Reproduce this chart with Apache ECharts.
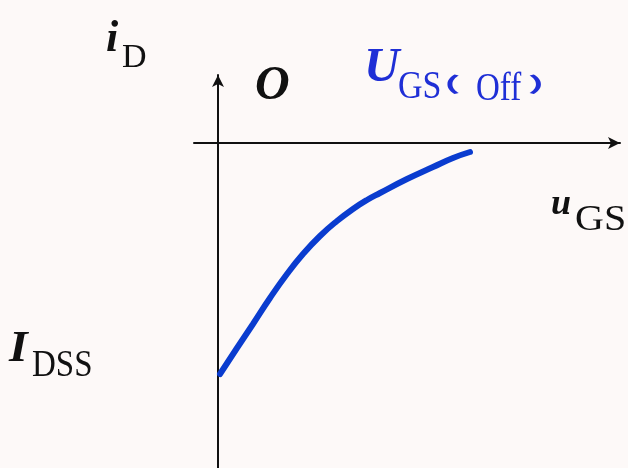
<!DOCTYPE html>
<html>
<head>
<meta charset="utf-8">
<title>iD – uGS transfer characteristic</title>
<script src="https://cdn.jsdelivr.net/npm/echarts@6/dist/echarts.min.js"></script>
<style>
  html, body { margin: 0; padding: 0; background: #fdf9f8; }
  #chart { width: 628px; height: 468px; }
</style>
</head>
<body>
<div id="chart"></div>
<script>
// Transfer characteristic: gate-source voltage (arbitrary units) vs drain current
var uGS = [2, 19, 35, 52, 69, 85, 102, 119, 135, 149, 162, 189, 215, 235, 252];
var iD  = [-231, -205, -181, -155, -131, -111, -93, -78, -66, -57, -50, -36, -24, -15, -9];

// Axis extents (same arbitrary units)
var xRange = [-24, 402];
var yRange = [-325, 68];

var SERIF = '"Liberation Serif", "Times New Roman", serif';
var CJK = '"Noto Sans CJK SC", sans-serif';
var INK = '#111111';
var BLUE = '#1f2fd6';

// text label helper: left edge, alphabetic baseline, font, scale
function label(text, left, baseline, size, style, weight, color, sx, sy, family) {
  sx = sx || 1; sy = sy || 1;
  return {
    type: 'text',
    x: left,
    y: baseline + 2 + 0.16 * size * sy,
    scaleX: sx,
    scaleY: sy,
    z: 10,
    style: {
      text: text,
      fontSize: size,
      fontStyle: style,
      fontWeight: weight,
      fontFamily: family || SERIF,
      fill: color,
      align: 'left',
      verticalAlign: 'bottom'
    }
  };
}

// full-width bracket, centred vertically on cy
function bracket(text, left, cy) {
  return {
    type: 'text', x: left, y: cy, scaleX: 1.3, scaleY: 0.72, z: 10,
    style: {
      text: text, fontSize: 28, fontWeight: 900, fontFamily: CJK,
      fill: BLUE, align: 'left', verticalAlign: 'middle'
    }
  };
}

var pairs = uGS.map(function (x, k) { return [x, iD[k]]; });

var chart = echarts.init(document.getElementById('chart'), null, { renderer: 'canvas' });
chart.setOption({
  backgroundColor: '#fdf9f8',
  animation: false,
  grid: { left: 194, right: 8, top: 75, bottom: 0 },
  xAxis: {
    type: 'value',
    min: xRange[0], max: xRange[1],
    axisLine: {
      onZero: true,
      lineStyle: { color: INK, width: 2 },
      symbol: ['none', 'arrow'],
      symbolSize: [9, 12]
    },
    axisTick: { show: false },
    axisLabel: { show: false },
    splitLine: { show: false }
  },
  yAxis: {
    type: 'value',
    min: yRange[0], max: yRange[1],
    axisLine: {
      onZero: true,
      lineStyle: { color: INK, width: 2 },
      symbol: ['none', 'arrow'],
      symbolSize: [9, 12]
    },
    axisTick: { show: false },
    axisLabel: { show: false },
    splitLine: { show: false }
  },
  series: [{
    type: 'line',
    data: pairs,
    smooth: true,
    showSymbol: false,
    lineStyle: { color: '#0a3ccf', width: 6, cap: 'round' }
  }],
  graphic: [
    label('i', 106, 53, 44, 'italic', 'bold', INK),
    label('D', 122, 68, 34, 'normal', 'normal', INK),
    label('O', 255, 101, 48, 'italic', 'bold', INK),
    label('U', 364, 83, 49, 'italic', 'bold', BLUE),
    label('GS', 398, 99, 34, 'normal', 'normal', BLUE, 1, 1.16),
    bracket('（', 424, 84),
    label('Off', 476, 101, 33, 'normal', 'normal', BLUE, 1, 1.2),
    bracket('）', 528, 84),
    label('u', 551, 215, 36, 'italic', 'bold', INK),
    label('GS', 575, 231, 40, 'normal', 'normal', INK, 1, 0.88),
    label('I', 9, 363, 48, 'italic', 'bold', INK, 1, 0.94),
    label('DSS', 32, 377, 33, 'normal', 'normal', INK, 1, 1.15)
  ]
});
</script>
</body>
</html>
